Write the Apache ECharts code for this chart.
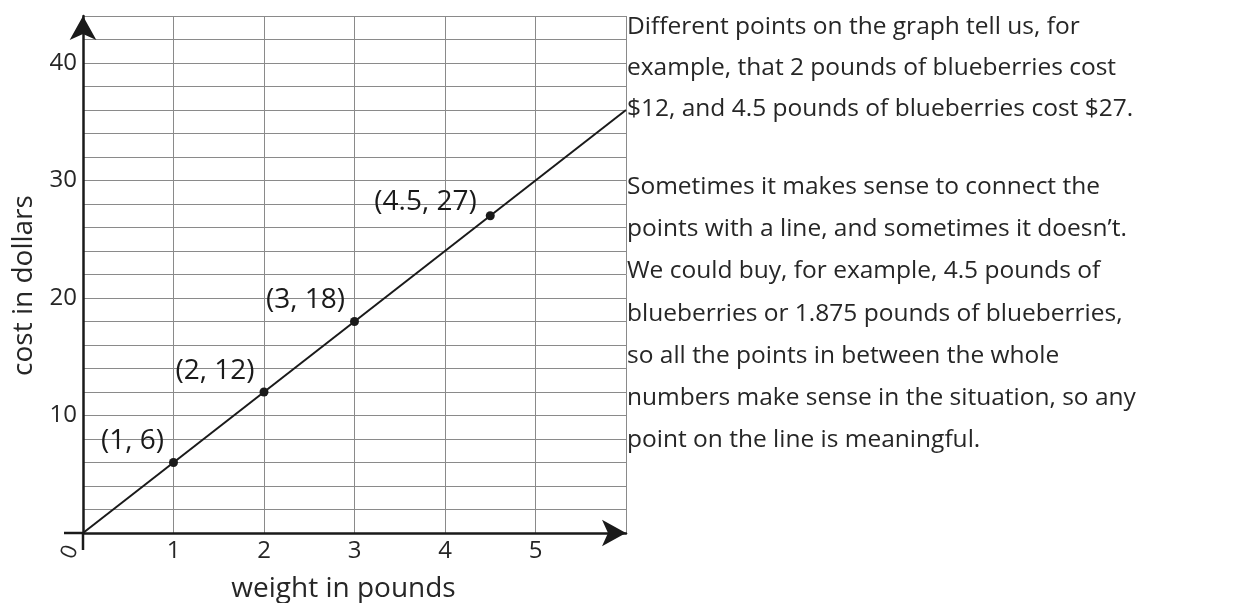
<!DOCTYPE html>
<html>
<head>
<meta charset="utf-8">
<script src="https://cdn.jsdelivr.net/npm/echarts@6/dist/echarts.min.js"></script>
<style>
    html, body { margin: 0; padding: 0; background: #fff; }
    #main { width: 1240px; height: 603px; }
</style>
</head>
<body>
<div id="main"></div>
<script type="text/javascript">
    // points
    var weights = [1, 2, 3, 4.5];
    var costs = [6, 12, 18, 27];
    var pointLabels = ['(1, 6)', '(2, 12)', '(3, 18)', '(4.5, 27)'];
    // the line through the origin
    var lineX = [0, 6];
    var lineY = [0, 36];
    // tick labels that are shown
    var xTicks = [1, 2, 3, 4, 5];
    var yTicks = [10, 20, 30, 40];

    var paragraph1 = [
        'Different points on the graph tell us, for',
        'example, that 2 pounds of blueberries cost',
        '$12, and 4.5 pounds of blueberries cost $27.'
    ];
    var paragraph2 = [
        'Sometimes it makes sense to connect the',
        'points with a line, and sometimes it doesn\u2019t.',
        'We could buy, for example, 4.5 pounds of',
        'blueberries or 1.875 pounds of blueberries,',
        'so all the points in between the whole',
        'numbers make sense in the situation, so any',
        'point on the line is meaningful.'
    ];

    var font = '"Open Sans", "Noto Sans", sans-serif';
    var ink = '#1a1a1a';
    var textColor = '#262626';

    var lineData = lineX.map(function (x, i) { return [x, lineY[i]]; });
    var pointData = weights.map(function (w, i) {
        var item = { value: [w, costs[i]], name: pointLabels[i] };
        if (i === weights.length - 1) {
            item.label = { offset: [-4, -14] };   // last label sits closer to its point
        }
        return item;
    });

    var myChart = echarts.init(document.getElementById('main'));
    var option = {
        animation: false,
        backgroundColor: '#fff',
        grid: { left: 83, right: 614, top: 16, bottom: 70, outerBoundsMode: 'none', containLabel: false },
        xAxis: {
            type: 'value',
            min: 0,
            max: 6,
            interval: 1,
            name: 'weight in pounds',
            nameLocation: 'middle',
            nameGap: 42,
            nameTextStyle: { fontFamily: font, fontSize: 28, color: textColor, padding: [0, 22, 0, 0] },
            axisLine: {
                show: true,
                symbol: ['none', 'arrow'],
                symbolSize: [20, 24],
                symbolOffset: [0, 0],
                lineStyle: { color: ink, width: 2.5 }
            },
            axisTick: { show: false },
            axisLabel: {
                margin: 6,
                fontFamily: font,
                fontSize: 24,
                color: textColor,
                formatter: function (v) { return xTicks.indexOf(v) >= 0 ? String(v) : ''; }
            },
            splitLine: { show: true, lineStyle: { color: '#8a8a8a', width: 1 } }
        },
        yAxis: {
            type: 'value',
            min: 0,
            max: 44,
            interval: 2,
            name: 'cost in dollars',
            nameLocation: 'middle',
            nameGap: 45,
            nameTextStyle: { fontFamily: font, fontSize: 28, color: textColor, padding: [0, 22, 0, 0] },
            axisLine: {
                show: true,
                symbol: ['none', 'arrow'],
                symbolSize: [20, 24],
                symbolOffset: [0, 0],
                lineStyle: { color: ink, width: 2.5 }
            },
            axisTick: { show: false },
            axisLabel: {
                margin: 6,
                fontFamily: font,
                fontSize: 24,
                color: textColor,
                formatter: function (v) { return yTicks.indexOf(v) >= 0 ? String(v) : ''; }
            },
            splitLine: { show: true, lineStyle: { color: '#8a8a8a', width: 1 } }
        },
        series: [
            {
                type: 'line',
                data: lineData,
                symbol: 'none',
                silent: true,
                lineStyle: { color: ink, width: 2 },
                z: 3
            },
            {
                type: 'scatter',
                data: pointData,
                symbolSize: 9,
                itemStyle: { color: ink, opacity: 1 },
                z: 4,
                label: {
                    show: true,
                    position: 'left',
                    distance: 5,
                    offset: [0, -21],
                    formatter: '{b}',
                    fontFamily: font,
                    fontSize: 28,
                    color: ink
                }
            }
        ]
    };
    myChart.setOption(option);

    // axis stubs past the origin, the origin mark and the text at the right
    var o = myChart.convertToPixel({ gridIndex: 0 }, [0, 0]);
    myChart.setOption({
        graphic: [
            { type: 'line', shape: { x1: o[0] - 19, y1: o[1], x2: o[0], y2: o[1] }, style: { stroke: ink, lineWidth: 2.5 } },
            { type: 'line', shape: { x1: o[0], y1: o[1], x2: o[0], y2: o[1] + 17 }, style: { stroke: ink, lineWidth: 2.5 } },
            {
                type: 'text', x: o[0] - 13, y: o[1] + 19, rotation: 1.2,
                style: { text: '0', font: '22px ' + font, fill: textColor, align: 'center', verticalAlign: 'middle' }
            },
            {
                type: 'text', x: 627, y: 7,
                style: { text: paragraph1.join('\n'), font: '24.5px ' + font, fill: textColor, lineHeight: 41, verticalAlign: 'top' }
            },
            {
                type: 'text', x: 627, y: 166,
                style: { text: paragraph2.join('\n'), font: '24.5px ' + font, fill: textColor, lineHeight: 42.2, verticalAlign: 'top' }
            }
        ]
    });
</script>
</body>
</html>
